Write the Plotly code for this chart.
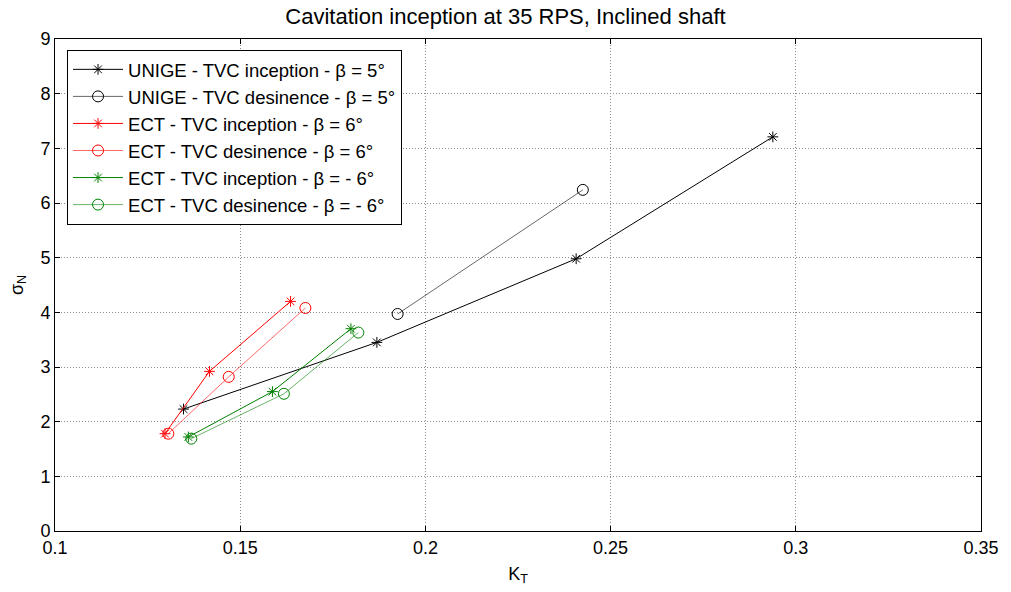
import plotly.graph_objects as go

# Cavitation inception / desinence points (thrust coefficient K_T vs cavitation number sigma_N)
unige_inc_kt = [0.1347, 0.1869, 0.2407, 0.2938]
unige_inc_sn = [2.23, 3.45, 4.98, 7.21]

unige_des_kt = [0.1925, 0.2425]
unige_des_sn = [3.97, 6.24]

ect_p6_inc_kt = [0.1297, 0.1417, 0.1636]
ect_p6_inc_sn = [1.78, 2.92, 4.20]

ect_p6_des_kt = [0.1306, 0.1469, 0.1676]
ect_p6_des_sn = [1.78, 2.82, 4.08]

ect_m6_inc_kt = [0.1360, 0.1587, 0.1799]
ect_m6_inc_sn = [1.72, 2.55, 3.70]

ect_m6_des_kt = [0.1368, 0.1618, 0.1819]
ect_m6_des_sn = [1.69, 2.51, 3.63]

x_ticks = [0.1, 0.15, 0.2, 0.25, 0.3, 0.35]
y_ticks = list(range(0, 10))

FONT = "Liberation Sans, Arial, sans-serif"

series = [
    ("UNIGE - TVC inception - β = 5°", unige_inc_kt, unige_inc_sn, "#000000", "asterisk-open", 1.0, 9),
    ("UNIGE - TVC desinence - β = 5°", unige_des_kt, unige_des_sn, "#000000", "circle-open", 0.6, 11),
    ("ECT - TVC inception - β = 6°", ect_p6_inc_kt, ect_p6_inc_sn, "#ff0000", "asterisk-open", 1.0, 9),
    ("ECT - TVC desinence - β = 6°", ect_p6_des_kt, ect_p6_des_sn, "#ff0000", "circle-open", 0.6, 11),
    ("ECT - TVC inception - β = - 6°", ect_m6_inc_kt, ect_m6_inc_sn, "#008000", "asterisk-open", 1.0, 9),
    ("ECT - TVC desinence - β = - 6°", ect_m6_des_kt, ect_m6_des_sn, "#008000", "circle-open", 0.6, 11),
]

fig = go.Figure()
for i, (name, xs, ys, color, symbol, lw, ms) in enumerate(series):
    fig.add_trace(go.Scatter(
        x=xs, y=ys, name=name, mode="lines+markers",
        legendgroup=f"g{i}",
        line=dict(color=color, width=lw),
        marker=dict(symbol=symbol, size=ms, color=color,
                    line=dict(color=color, width=1)),
    ))

axis_common = dict(
    showline=True, linecolor="#000000", linewidth=1, mirror="allticks",
    ticks="inside", ticklen=5, tickcolor="#000000",
    showgrid=True, gridcolor="#8c8c8c", gridwidth=1, griddash="1px,2px",
    zeroline=False, tickfont=dict(family=FONT, size=18, color="#000000"),
)

fig.update_xaxes(
    range=[0.1, 0.35], tickvals=x_ticks,
    ticktext=[f"{v:g}" for v in x_ticks],
    title=dict(text="K<sub>T</sub>", font=dict(family=FONT, size=18, color="#000000"), standoff=10),
    **axis_common,
)
fig.update_yaxes(
    range=[0, 9], tickvals=y_ticks,
    title=dict(text="σ<sub>N</sub>", font=dict(family=FONT, size=18, color="#000000"), standoff=12),
    **axis_common,
)

fig.update_layout(
    width=1011, height=592,
    margin=dict(l=55, r=23, t=39, b=60),
    paper_bgcolor="#ffffff", plot_bgcolor="#ffffff",
    font=dict(family=FONT, size=18, color="#000000"),
    title=dict(text="Cavitation inception at 35 RPS, Inclined shaft",
               x=0.5, xanchor="center", y=0.972, yanchor="middle",
               font=dict(family=FONT, size=22, color="#000000")),
    legend=dict(
        x=0.013, y=0.978, xanchor="left", yanchor="top",
        bgcolor="#ffffff", bordercolor="#000000", borderwidth=1,
        font=dict(family=FONT, size=18.5, color="#000000"),
        tracegroupgap=0, itemwidth=50,
    ),
    showlegend=True,
)

fig.write_html("out.html")
